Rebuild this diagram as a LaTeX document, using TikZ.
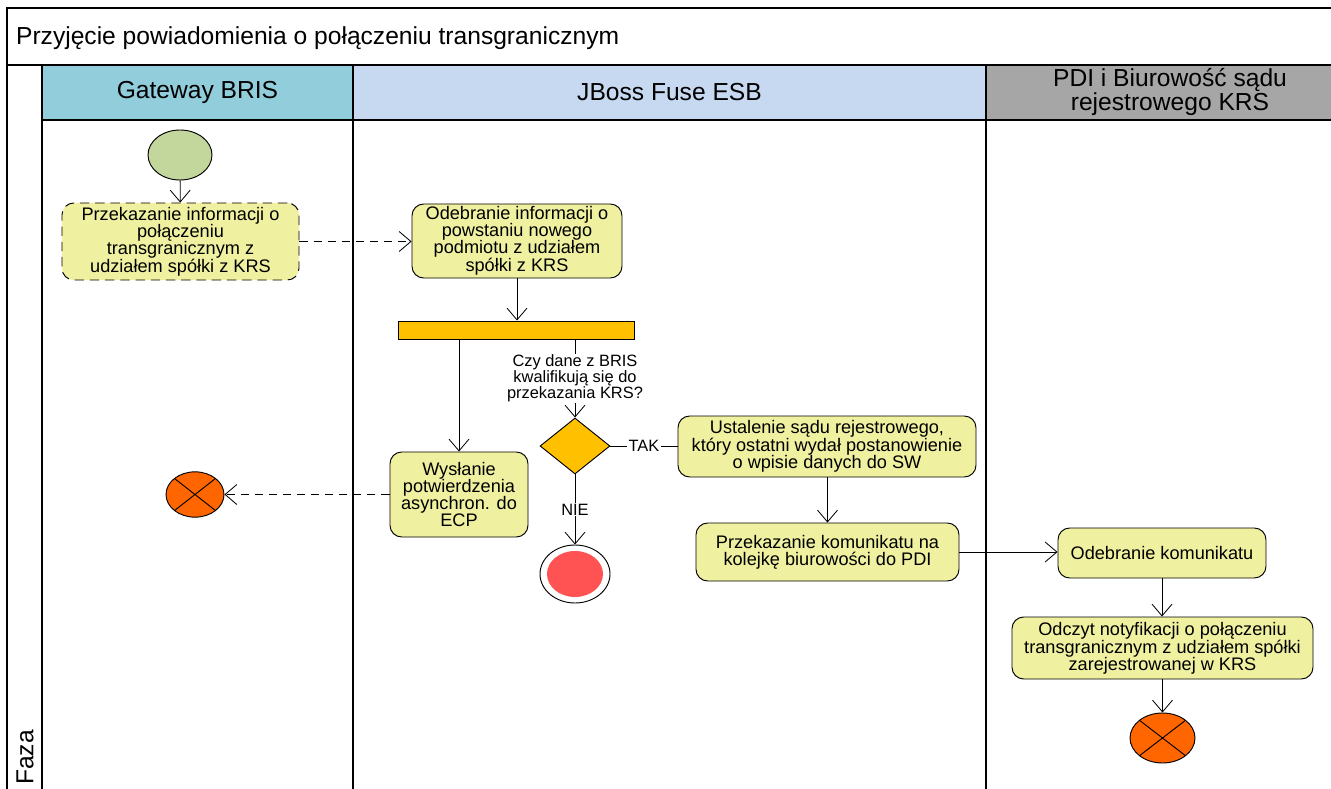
\documentclass[tikz,border=0pt]{standalone}
\usepackage{fontspec}
\setmainfont{Liberation Sans}
\usepackage{tikz}
\usetikzlibrary{arrows.meta, positioning, shapes.geometric, calc}
\definecolor{actfill}{RGB}{239,241,160}
\definecolor{barfill}{RGB}{255,192,0}
\definecolor{startfill}{RGB}{195,214,155}
\definecolor{endfill}{RGB}{255,82,82}
\definecolor{xfill}{RGB}{255,102,0}
\definecolor{gwfill}{RGB}{146,205,220}
\definecolor{esbfill}{RGB}{198,217,241}
\definecolor{pdifill}{RGB}{166,166,166}
\newcommand{\hdrfont}{\fontsize{21}{20.5}\selectfont}
\newcommand{\actfont}{\fontsize{15.5}{14.5}\selectfont}
\newcommand{\lblfont}{\fontsize{14}{13.5}\selectfont}
\tikzset{%
	frame/.style={line width=1.3pt},
	act/.style={draw, rectangle, rounded corners=10pt, fill=actfill, align=center,%
		inner sep=0mm, font=\actfont, line width=0.8pt},
	actd/.style={act, dash pattern=on 8pt off 5pt},
	bar/.style={draw, rectangle, fill=barfill, inner sep=0mm, line width=0.8pt},
	dec/.style={draw, diamond, fill=barfill, inner sep=0mm, line width=0.8pt},
	start/.style={draw, ellipse, fill=startfill, inner sep=0mm, line width=0.8pt},
	endall/.style={draw, ellipse, fill=white, inner sep=0mm, line width=0.8pt},
	endin/.style={ellipse, fill=endfill, inner sep=0mm},
	xend/.style={draw, ellipse, fill=xfill, inner sep=0mm, line width=0.8pt,%
		path picture={\draw (path picture bounding box.north west) -- (path picture bounding box.south east)
			(path picture bounding box.north east) -- (path picture bounding box.south west);}},
	conn/.style={line width=0.7pt},
	sel/.style={conn, -{Straight Barb[length=10pt,width=17pt]}},
	seld/.style={sel, dash pattern=on 7pt off 5pt},
	lbl/.style={font=\lblfont, align=center, fill=white, inner sep=1pt}
}

\begin{document}
\begin{tikzpicture}[x=0.03cm, y=-0.03cm]
  \useasboundingbox (0,0) rectangle (1331,789);

  % lanes
  \fill[gwfill] (42,65) rectangle (353,120);
  \fill[esbfill] (353,65) rectangle (986,120);
  \fill[pdifill] (986,65) rectangle (1331,120);
  \draw[frame] (7,789) -- (7,8) -- (1331,8);
  \draw[frame] (7,65) -- (1331,65);
  \draw[frame] (42,120) -- (1331,120);
  \foreach \x in {42,353,986}
    \draw[frame] (\x,65) -- (\x,789);

  \node[anchor=west, font=\hdrfont] (title) at (12,38) {Przyjęcie powiadomienia o połączeniu transgranicznym};
  \node[font=\hdrfont] (gw) at (197.5,92) {Gateway BRIS};
  \node[font=\hdrfont] (esb) at (669.5,92) {JBoss Fuse ESB};
  \node[font=\hdrfont, align=center] (pdi) at (1170,92) {PDI i Biurowość sądu\\rejestrowego KRS};
  \node[font=\hdrfont, rotate=90, anchor=west, inner sep=0mm] (faza) at (25,785) {Faza};

  % activities
  \node[start, minimum width=1.92cm, minimum height=1.5cm] (st) at (180,155) {};
  \node[actd, minimum width=7.11cm, minimum height=2.31cm] (pinf) at (180.5,241.5)
    {Przekazanie informacji o\\połączeniu\\transgranicznym z\\udziałem spółki z KRS};
  \node[act, minimum width=6.3cm, minimum height=2.22cm] (oinf) at (517,241)
    {Odebranie informacji o\\powstaniu nowego\\podmiotu z udziałem\\spółki z KRS};
  \node[bar, minimum width=7.08cm, minimum height=0.54cm] (fork) at (516,330) {};
  \node[dec, minimum width=2.1cm, minimum height=1.68cm] (dec) at (575,446) {};
  \node[act, minimum width=4.14cm, minimum height=2.55cm] (wys) at (459,494.5)
    {Wysłanie\\potwierdzenia\\asynchron. do\\ECP};
  \node[xend, minimum width=1.74cm, minimum height=1.36cm] (xl) at (195,494.5) {};
  \node[endall, minimum width=2.1cm, minimum height=1.74cm] (fin) at (575,574) {};
  \node[endin, minimum width=1.68cm, minimum height=1.38cm] (fin-in) at (fin) {};
  \node[act, minimum width=8.94cm, minimum height=1.83cm] (ust) at (827,446.5)
    {Ustalenie sądu rejestrowego,\\który ostatni wydał postanowienie\\o wpisie danych do SW};
  \node[act, minimum width=7.89cm, minimum height=1.74cm] (przk) at (827.5,552)
    {Przekazanie komunikatu na\\kolejkę biurowości do PDI};
  \node[act, minimum width=6.24cm, minimum height=1.5cm] (odeb) at (1162,553)
    {Odebranie komunikatu};
  \node[act, minimum width=9.03cm, minimum height=1.86cm] (odcz) at (1162.5,648)
    {Odczyt notyfikacji o połączeniu\\transgranicznym z udziałem spółki\\zarejestrowanej w KRS};
  \node[xend, minimum width=1.95cm, minimum height=1.5cm] (xr) at (1162.5,738) {};

  % flows
  \draw[sel] (st) -- (pinf);
  \draw[seld] (pinf.east) -- (pinf.east -| oinf.west);
  \draw[sel] (oinf.south) -- (oinf.south |- fork.north);
  \draw[sel] (wys.north |- fork.south) -- (wys.north);
  \draw[sel] (dec.north |- fork.south) -- node[lbl] {Czy dane z BRIS\\kwalifikują się do\\przekazania KRS?} (dec.north);
  \draw[conn] (dec.east) -- node[lbl] {TAK} (dec.east -| ust.west);
  \draw[sel] (dec.south) -- node[lbl] {NIE} (fin.north);
  \draw[seld] (wys.west) -- (xl.east);
  \draw[sel] (ust.south -| przk.north) -- (przk.north);
  \draw[sel] (przk.east) -- (przk.east -| odeb.west);
  \draw[sel] (odeb.south) -- (odeb.south |- odcz.north);
  \draw[sel] (odcz.south -| xr.north) -- (xr.north);
\end{tikzpicture}
\end{document}
